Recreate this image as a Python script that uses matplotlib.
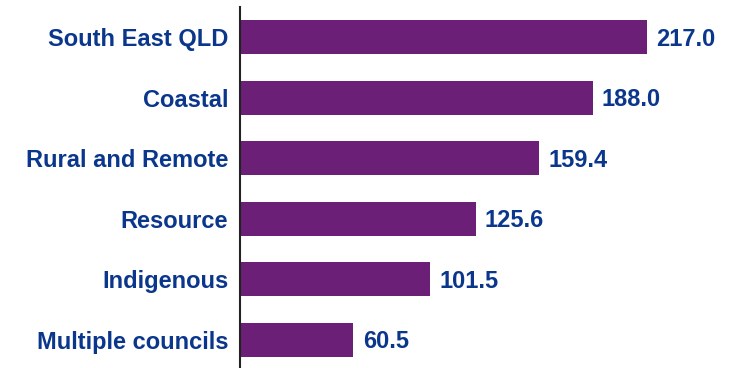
import matplotlib
matplotlib.use("Agg")
import matplotlib.pyplot as plt

categories = ["South East QLD", "Coastal", "Rural and Remote", "Resource", "Indigenous", "Multiple councils"]
values = [217.0, 188.0, 159.4, 125.6, 101.5, 60.5]

bar_color = "#6B1F77"
text_color = "#0A368C"

plt.rcParams['font.family'] = ['Liberation Sans', 'DejaVu Sans']

fig = plt.figure(figsize=(7.36, 3.68), dpi=100)
ax = fig.add_axes([240/736, -2/368, 496/736, 363/368])

y = list(range(len(categories)))[::-1]
ax.barh(y, values, height=0.56, color=bar_color)
ax.set_xlim(0, 496/1.875)
ax.set_ylim(-0.5, 5.5)
ax.set_yticks(y)
ax.set_yticklabels(categories, fontsize=17, fontweight='bold', color=text_color)
ax.tick_params(axis='y', length=0, pad=8.5)
ax.set_xticks([])
for s in ["top", "right", "bottom"]:
    ax.spines[s].set_visible(False)
ax.spines["left"].set_color("#222222")
ax.spines["left"].set_linewidth(1.5)

for yi, v in zip(y, values):
    ax.text(v + 5.0, yi - 0.03, f"{v:.1f}", va='center', ha='left', fontsize=17,
            fontweight='bold', color=text_color)

fig.savefig("out.png", dpi=100)
